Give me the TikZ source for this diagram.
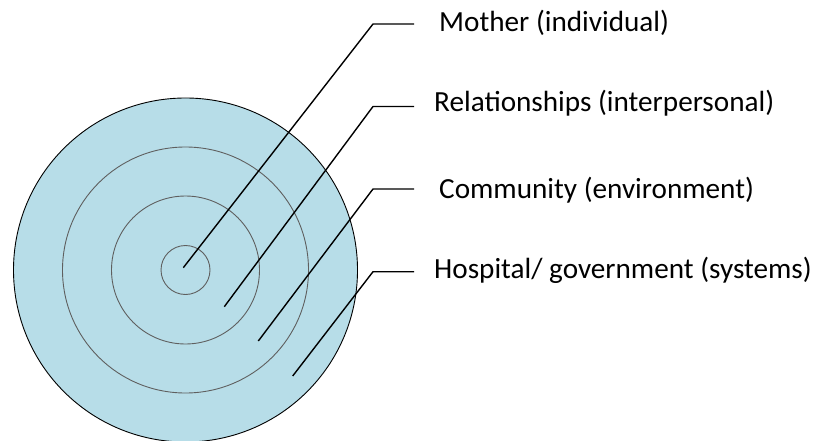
\documentclass[tikz,border=0pt]{standalone}
\usepackage{fontspec}
\setmainfont{Carlito}
\definecolor{discfill}{HTML}{B7DDE8}
\definecolor{ringgray}{HTML}{5F5F5F}
\begin{document}
\begin{tikzpicture}[x=1pt,y=-1pt,
  disc/.style={circle, draw=black, line width=0.9pt, fill=discfill, inner sep=0pt},
  ring/.style={circle, draw=ringgray, line width=0.9pt, inner sep=0pt},
  leader/.style={draw=black, line width=1.4pt},
  lbl/.style={anchor=base west, inner sep=0pt, font=\fontsize{29.2}{34}\selectfont}]
\useasboundingbox (0,0) rectangle (819,441);
\node[disc, minimum size=344pt] (outer) at (185.5,270) {};
\node[ring, minimum size=246pt] (r3) at (185.5,270) {};
\node[ring, minimum size=148pt] (r2) at (185.5,270) {};
\node[ring, minimum size=49pt] (r1) at (185.5,270) {};
% leader coordinates
\coordinate (p1) at (183.3,267.7);
\coordinate (k1) at (373,24);
\coordinate (e1) at (414,24);
\coordinate (p2) at (224.3,306.7);
\coordinate (k2) at (373,106.5);
\coordinate (e2) at (414,106.5);
\coordinate (p3) at (258.3,341);
\coordinate (k3) at (373,189);
\coordinate (e3) at (414,189);
\coordinate (p4) at (292.7,376);
\coordinate (k4) at (373,271.7);
\coordinate (e4) at (414,271.7);
\draw[leader] (p1) -- (k1) -- (e1);
\draw[leader] (p2) -- (k2) -- (e2);
\draw[leader] (p3) -- (k3) -- (e3);
\draw[leader] (p4) -- (k4) -- (e4);
% labels
\node[lbl] (l1) at (439,32) {Mother (individual)};
\node[lbl] (l2) at (434,112) {Relationships (interpersonal)};
\node[lbl] (l3) at (439,198) {Community (environment)};
\node[lbl] (l4) at (434,278) {Hospital/ government (systems)};
\end{tikzpicture}
\end{document}
